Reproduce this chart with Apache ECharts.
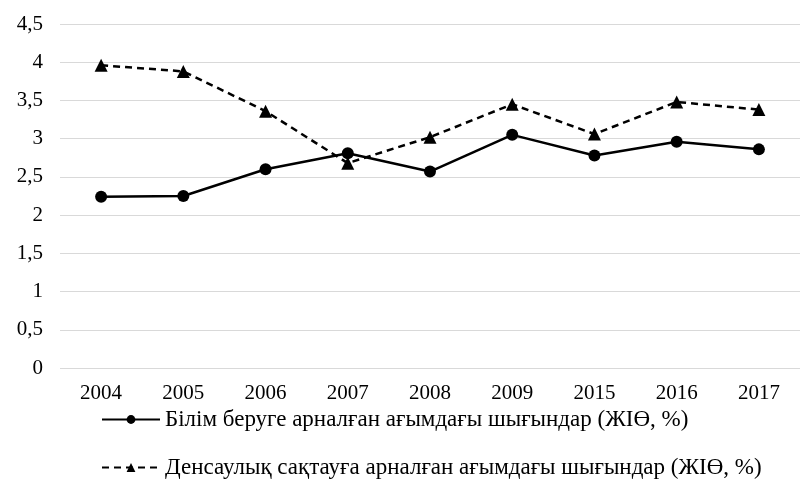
<!DOCTYPE html>
<html>
<head>
<meta charset="utf-8">
<script src="https://cdn.jsdelivr.net/npm/echarts@6/dist/echarts.min.js"></script>
<style>
html, body { margin: 0; padding: 0; background: #fff; }
#main { width: 800px; height: 482px; }
</style>
</head>
<body>
<div id="main"></div>
<script>
var years = ['2004', '2005', '2006', '2007', '2008', '2009', '2015', '2016', '2017'];
var education = [2.24, 2.25, 2.60, 2.81, 2.57, 3.05, 2.78, 2.96, 2.86];
var health = [3.96, 3.88, 3.36, 2.68, 3.02, 3.45, 3.06, 3.48, 3.38];
var names = [
	'Білім беруге арналған ағымдағы шығындар (ЖІӨ, %)',
	'Денсаулық сақтауға арналған ағымдағы шығындар (ЖІӨ, %)'
];

var chart = echarts.init(document.getElementById('main'));
var font = 'Liberation Serif';

// one legend per row, so they stack like the original
function legendRow(name, top) {
	return {
		left: 96,
		top: top,
		itemWidth: 58,
		itemHeight: 11,
		textStyle: { fontFamily: font, fontSize: 23, color: '#000' },
		data: [name]
	};
}

var option = {
	animation: false,
	textStyle: { fontFamily: font },
	grid: { left: 60, right: -6, top: 24, bottom: 114 },
	legend: [legendRow(names[0], 403), legendRow(names[1], 451)],
	xAxis: {
		type: 'category',
		data: years,
		axisLine: { show: false },
		axisTick: { show: false },
		axisLabel: { fontFamily: font, fontSize: 21, color: '#000', margin: 15 }
	},
	yAxis: {
		type: 'value',
		min: 0,
		max: 4.5,
		interval: 0.5,
		axisLabel: {
			fontFamily: font, fontSize: 21, color: '#000', margin: 17,
			formatter: function (v) { return String(v).replace('.', ','); }
		},
		splitLine: { lineStyle: { color: '#d9d9d9', width: 1 } }
	},
	series: [{
		name: names[0],
		type: 'line',
		data: education,
		symbol: 'circle',
		symbolSize: 12,
		lineStyle: { color: '#000', width: 2.5, type: 'solid' },
		itemStyle: { color: '#000' }
	}, {
		name: names[1],
		type: 'line',
		data: health,
		symbol: 'triangle',
		symbolSize: 13,
		lineStyle: { color: '#000', width: 2.5, type: [7, 5] },
		itemStyle: { color: '#000' }
	}]
};
chart.setOption(option);
</script>
</body>
</html>
